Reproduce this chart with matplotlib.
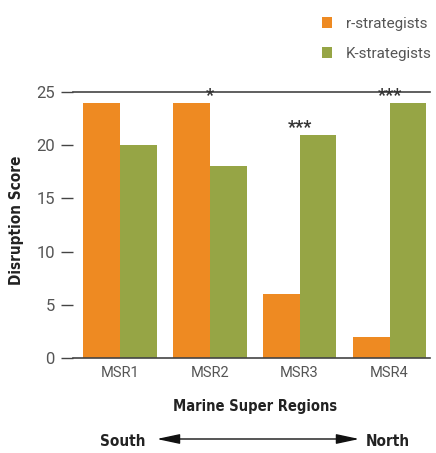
import matplotlib.pyplot as plt
import numpy as np
from matplotlib.patches import FancyArrowPatch

regions = ['MSR1', 'MSR2', 'MSR3', 'MSR4']
r_scores = [24, 24, 6, 2]
k_scores = [20, 18, 21, 24]
stars = ['', '*', '***', '***']
star_height = [24, 24, 21, 24]

orange = '#EE8A22'
green = '#96A545'
grey = '#555555'
dark = '#222222'

plt.rcParams['font.family'] = ['Roboto', 'DejaVu Sans']
bold = dict(family='DejaVu Sans', fontstretch='condensed', fontweight='bold', color=dark)

fig = plt.figure(figsize=(4.36, 4.53), dpi=100)
ax = fig.add_axes([73/436, 1 - 358/453, 357/436, 266/453])

x = np.arange(len(regions))
w = 0.41
ax.bar(x - w/2, r_scores, w, color=orange, label='r-strategists')
ax.bar(x + w/2, k_scores, w, color=green, label='K-strategists')

# significance markers above each pair
for xi, s, h in zip(x, stars, star_height):
    if s:
        ax.text(xi, h - 0.25, s, ha='center', va='bottom', fontsize=13,
                fontweight='bold', color='#333333')

ax.set_xlim(-0.52, 3.45)
ax.set_ylim(0, 25)
ax.set_yticks([0, 5, 10, 15, 20, 25])
ax.set_xticks(x)
ax.set_xticklabels(regions)
ax.tick_params(axis='y', length=9, width=1, color='#444444', labelsize=12, labelcolor=grey, pad=4)
ax.tick_params(axis='x', length=0, labelsize=10.5, labelcolor=grey, pad=6)
for side in ['left', 'right']:
    ax.spines[side].set_visible(False)
for side in ['top', 'bottom']:
    ax.spines[side].set_color('#444444')
    ax.spines[side].set_linewidth(1.2)

fig.text(16/436, 1 - 220/453, 'Disruption Score', rotation=90, ha='center', va='center',
         fontsize=11, **bold)
fig.text(255/436, 1 - 407/453, 'Marine Super Regions', ha='center', va='center',
         fontsize=10.5, **bold)
fig.text(123/436, 1 - 441/453, 'South', ha='center', va='center', fontsize=11, **bold)
fig.text(388/436, 1 - 441/453, 'North', ha='center', va='center', fontsize=11, **bold)
fig.add_artist(FancyArrowPatch(
    (154/436, 1 - 439/453), (362/436, 1 - 439/453), transform=fig.transFigure,
    arrowstyle='<|-|>,head_length=14,head_width=3', mutation_scale=1, color='#111111', lw=1))

leg = fig.legend(loc='upper left', bbox_to_anchor=(308/436, 1 - 3/453), frameon=False,
                 fontsize=11, labelcolor=grey, handlelength=0.7, handleheight=0.7,
                 handletextpad=0.9, labelspacing=1.05)

fig.savefig('out.png', dpi=100)
